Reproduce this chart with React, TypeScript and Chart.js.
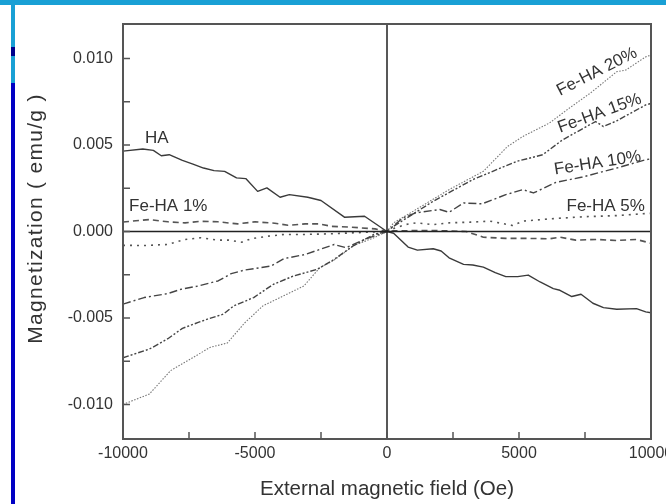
import React, { useEffect, useRef } from 'react';
import { Chart, registerables } from 'chart.js';

Chart.register(...registerables);

const FONT = '"Liberation Sans", Arial, Helvetica, sans-serif';

// ---- data (field in Oe, magnetization in emu/g) ----
const haField = [-10000, -9250, -8850, -8550, -8250, -7750, -7350, -6950, -6550, -6150, -5700, -5350, -4900, -4550, -4050, -3700, -3000, -2500, -1600, -850, -100, 0, 250, 800, 1150, 1750, 2050, 2350, 2900, 3250, 3650, 4100, 4500, 4950, 5350, 5800, 6300, 6550, 7000, 7350, 7800, 8200, 8700, 9450, 9800, 10000];
const haMag = [0.00465, 0.00477, 0.00469, 0.00438, 0.00444, 0.00411, 0.0039, 0.00367, 0.00352, 0.00348, 0.0031, 0.00306, 0.00232, 0.00252, 0.00198, 0.00213, 0.00198, 0.00179, 0.00082, 0.00088, 0.0001, 0, -0.0001, -0.0009, -0.00108, -0.001, -0.00113, -0.00152, -0.0019, -0.00194, -0.00206, -0.00238, -0.00261, -0.00261, -0.00252, -0.00292, -0.0033, -0.0034, -0.00376, -0.00363, -0.00415, -0.0044, -0.0045, -0.00446, -0.00465, -0.0047];

const fe1Field = [-10000, -9000, -8300, -7650, -7050, -6400, -5650, -5000, -4250, -3750, -3100, -2600, -2100, -1350, -450, 0, 250, 1750, 3000, 3650, 4500, 5300, 6150, 6550, 7150, 7950, 8700, 9450, 10000];
const fe1Mag = [0.00055, 0.00069, 0.00056, 0.0005, 0.00059, 0.00056, 0.00044, 0.00056, 0.00048, 0.00036, 0.00044, 0.00044, 0.0003, 0.00025, 0.00015, 0, 0.00004, 0.00006, 0, -0.00033, -0.0004, -0.0004, -0.00042, -0.00033, -0.0005, -0.00046, -0.00052, -0.00046, -0.00068];

const fe5Field = [-10000, -9200, -8300, -7650, -7050, -6400, -6000, -5500, -5150, -4500, -3900, -3100, -2100, -1350, 0, 300, 700, 1100, 1750, 2350, 3150, 3900, 4750, 5150, 6150, 7400, 8700, 9800, 10000];
const fe5Mag = [-0.0008, -0.00081, -0.00075, -0.00046, -0.00036, -0.0005, -0.0005, -0.00062, -0.00042, -0.00027, -0.00017, -0.00017, -0.00013, -0.00008, 0, 0.0002, 0.0004, 0.0005, 0.0004, 0.0005, 0.00054, 0.0006, 0.00035, 0.0006, 0.00073, 0.00085, 0.00092, 0.00104, 0.00105];

const fe10Field = [-10000, -9200, -8300, -7800, -7150, -6400, -5900, -5400, -4400, -3900, -3100, -2000, -1550, -850, 0, 600, 1100, 2000, 2350, 2900, 3600, 4500, 5150, 5550, 6400, 7400, 8700, 9800, 10000];
const fe10Mag = [-0.0042, -0.00382, -0.00359, -0.00334, -0.00315, -0.00286, -0.00244, -0.00223, -0.002, -0.00157, -0.00133, -0.00075, -0.00094, -0.00046, 0, 0.00079, 0.00108, 0.00127, 0.00111, 0.00165, 0.0016, 0.00213, 0.00242, 0.00223, 0.00284, 0.00315, 0.00367, 0.00415, 0.0042];

const fe15Field = [-10000, -9000, -8300, -7750, -7150, -6800, -6200, -5800, -5050, -4300, -3550, -2650, -2000, -1300, -500, 0, 250, 1750, 3250, 4900, 5900, 6650, 7900, 8200, 8700, 9800, 10000];
const fe15Mag = [-0.0073, -0.0068, -0.0062, -0.0056, -0.00526, -0.00507, -0.00478, -0.0043, -0.00382, -0.00305, -0.00258, -0.00219, -0.00161, -0.00085, -0.00017, 0, 0.0003, 0.00175, 0.003, 0.00405, 0.00444, 0.0053, 0.00636, 0.00607, 0.0064, 0.00732, 0.0074];

const fe20Field = [-10000, -9000, -8200, -7450, -6700, -6050, -5400, -4700, -4050, -3150, -2550, -2000, -1250, -550, 0, 250, 1100, 2350, 3650, 4300, 4550, 5150, 6150, 6900, 7700, 8700, 9050, 9800, 10000];
const fe20Mag = [-0.01, -0.0094, -0.00805, -0.00738, -0.0067, -0.00645, -0.0053, -0.0043, -0.00382, -0.00315, -0.0021, -0.00165, -0.0008, -0.0004, 0, 0.0005, 0.00127, 0.00242, 0.00348, 0.0045, 0.0049, 0.0055, 0.00627, 0.00713, 0.008, 0.00924, 0.00934, 0.0101, 0.0102];

const seriesNames = ['HA', 'Fe-HA 1%', 'Fe-HA 5%', 'Fe-HA 10%', 'Fe-HA 15%', 'Fe-HA 20%'];

// in-plot text labels, anchored in data coordinates
const labelTexts = ['HA', 'Fe-HA 1%', 'Fe-HA 5%', 'Fe-HA 10%', 'Fe-HA 15%', 'Fe-HA 20%'];
const labelField = [-9170, -9770, 9770, 6360, 6550, 6550];
const labelMag = [0.00513, 0.00118, 0.00118, 0.00329, 0.00571, 0.00784];
const labelAngle = [0, 0, 0, -9, -20, -27];
const labelAlign: CanvasTextAlign[] = ['left', 'left', 'right', 'left', 'left', 'left'];

const xTitle = 'External magnetic field (Oe)';
const yTitle = 'Magnetization ( emu/g )';

const pts = (xs: number[], ys: number[]) => xs.map((x, i) => ({ x, y: ys[i] }));

const framePlugin = {
  id: 'frame',
  afterDatasetsDraw(chart: any) {
    const { ctx, chartArea: a, scales } = chart;
    const xs = scales.x;
    const ys = scales.y;
    ctx.save();
    // zero lines
    ctx.strokeStyle = '#222';
    ctx.lineWidth = 1.5;
    const x0 = xs.getPixelForValue(0);
    const y0 = ys.getPixelForValue(0);
    ctx.beginPath();
    ctx.moveTo(a.left, y0);
    ctx.lineTo(a.right, y0);
    ctx.moveTo(x0, a.top);
    ctx.lineTo(x0, a.bottom);
    ctx.stroke();
    // inner tick marks
    ctx.strokeStyle = '#555';
    ctx.lineWidth = 1.5;
    ctx.beginPath();
    xs.ticks.forEach((t: any) => {
      const px = xs.getPixelForValue(t.value);
      ctx.moveTo(px, a.bottom);
      ctx.lineTo(px, a.bottom - 7);
    });
    ys.ticks.forEach((t: any) => {
      const py = ys.getPixelForValue(t.value);
      ctx.moveTo(a.left, py);
      ctx.lineTo(a.left + 7, py);
    });
    ctx.stroke();
    // box
    ctx.lineWidth = 2;
    ctx.strokeStyle = '#555';
    ctx.strokeRect(a.left, a.top, a.right - a.left, a.bottom - a.top);
    // text labels
    ctx.fillStyle = '#333';
    ctx.font = `17px ${FONT}`;
    ctx.textBaseline = 'alphabetic';
    labelTexts.forEach((txt, i) => {
      const px = xs.getPixelForValue(labelField[i]);
      const py = ys.getPixelForValue(labelMag[i]);
      ctx.save();
      ctx.translate(px, py);
      ctx.rotate((labelAngle[i] * Math.PI) / 180);
      ctx.textAlign = labelAlign[i];
      ctx.fillText(txt, 0, 0);
      ctx.restore();
    });
    // y axis title (drawn here for letter spacing control)
    ctx.save();
    ctx.translate(36, (a.top + a.bottom) / 2 - 13);
    ctx.rotate(-Math.PI / 2);
    ctx.font = `21px ${FONT}`;
    (ctx as any).letterSpacing = '1.3px';
    ctx.textAlign = 'center';
    ctx.textBaseline = 'middle';
    ctx.fillText(yTitle, 0, 0);
    ctx.restore();
    ctx.restore();
  },
};

const isMult = (v: number, s: number) => Math.abs(v / s - Math.round(v / s)) < 1e-6;

export default function App() {
  const ref = useRef<HTMLCanvasElement | null>(null);
  useEffect(() => {
    if (!ref.current) return;
    const common = { pointRadius: 0, tension: 0, fill: false, borderJoinStyle: 'round' as const };
    const chart = new Chart(ref.current, {
      type: 'line',
      data: {
        datasets: [
          { ...common, label: seriesNames[0], data: pts(haField, haMag), borderColor: '#3a3a3a', borderWidth: 1.4 },
          { ...common, label: seriesNames[1], data: pts(fe1Field, fe1Mag), borderColor: '#555', borderWidth: 1.6, borderDash: [6, 4] },
          { ...common, label: seriesNames[2], data: pts(fe5Field, fe5Mag), borderColor: '#555', borderWidth: 1.6, borderDash: [2, 5] },
          { ...common, label: seriesNames[3], data: pts(fe10Field, fe10Mag), borderColor: '#444', borderWidth: 1.4, borderDash: [8, 3, 2, 3] },
          { ...common, label: seriesNames[4], data: pts(fe15Field, fe15Mag), borderColor: '#444', borderWidth: 1.4, borderDash: [6, 2, 2, 2, 2, 2] },
          { ...common, label: seriesNames[5], data: pts(fe20Field, fe20Mag), borderColor: '#777', borderWidth: 1.1, borderDash: [1.5, 1.5] },
        ],
      },
      options: {
        animation: false,
        responsive: false,
        maintainAspectRatio: false,
        layout: { padding: { top: 24, right: 15, left: 0, bottom: 0 } },
        plugins: { legend: { display: false }, tooltip: { enabled: false } },
        scales: {
          x: {
            type: 'linear',
            min: -10000,
            max: 10000,
            grid: { display: false, drawTicks: false },
            border: { display: false },
            ticks: {
              stepSize: 2500,
              autoSkip: false,
              maxRotation: 0,
              includeBounds: false,
              padding: 5,
              color: '#333',
              font: { family: FONT, size: 16 },
              callback: (v: any) => (isMult(Number(v), 5000) ? String(Math.round(Number(v))) : ''),
            },
            title: {
              display: true,
              text: xTitle,
              color: '#333',
              font: { family: FONT, size: 20.5 },
              padding: { top: 0, bottom: 2 },
            },
            afterFit: (s: any) => {
              s.height = 65;
              s.paddingLeft = 0;
              s.paddingRight = 0;
            },
          },
          y: {
            type: 'linear',
            min: -0.012,
            max: 0.012,
            grid: { display: false, drawTicks: false },
            border: { display: false },
            ticks: {
              stepSize: 0.0025,
              autoSkip: false,
              includeBounds: false,
              padding: 10,
              color: '#333',
              font: { family: FONT, size: 16 },
              callback: (v: any) => (isMult(Number(v), 0.005) ? Number(v).toFixed(3) : ''),
            },
            title: { display: false },
            afterFit: (s: any) => {
              s.width = 123;
              s.paddingTop = 0;
              s.paddingBottom = 0;
            },
          },
        },
      },
      plugins: [framePlugin],
    });
    return () => chart.destroy();
  }, []);

  return (
    <div style={{ position: 'absolute', left: 0, top: 0, width: 666, height: 504, overflow: 'hidden', background: '#fff' }}>
      <canvas ref={ref} width={666} height={504} style={{ position: 'absolute', left: 0, top: 0 }} />
      <div style={{ position: 'absolute', left: 0, top: 0, width: 666, height: 5, background: '#19a0d5' }} />
      <div style={{ position: 'absolute', left: 11, top: 0, width: 4, height: 47, background: '#19a0d5' }} />
      <div style={{ position: 'absolute', left: 11, top: 47, width: 4, height: 9, background: '#00008c' }} />
      <div style={{ position: 'absolute', left: 11, top: 56, width: 4, height: 27, background: '#19a0d5' }} />
      <div style={{ position: 'absolute', left: 11, top: 83, width: 4, height: 421, background: '#0000c4' }} />
    </div>
  );
}
